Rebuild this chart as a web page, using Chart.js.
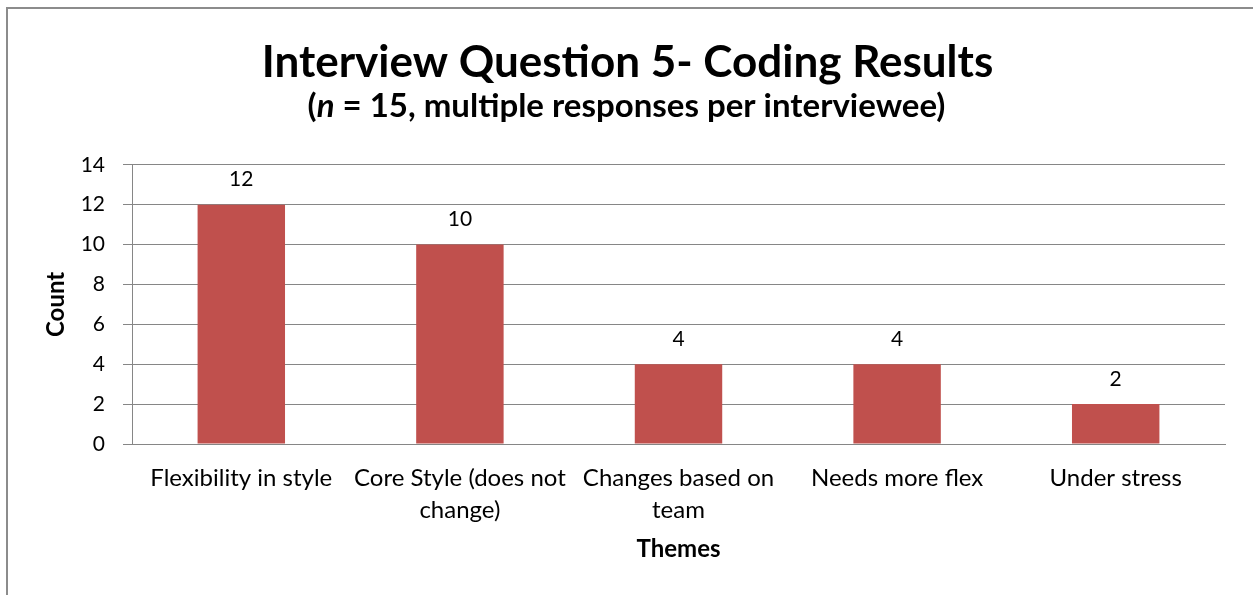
<!DOCTYPE html>
<html>
<head>
<meta charset="utf-8">
<title>Interview Question 5- Coding Results</title>
<script src="https://cdn.jsdelivr.net/npm/chart.js@4/dist/chart.umd.min.js"></script>
<style>
  body { margin: 0; background: #fff; }
  .wrap { position: relative; width: 1253px; height: 595px; overflow: hidden; }
  .frame { position: absolute; left: 6px; top: 7px; width: 1300px; height: 700px;
           border: 2px solid #8c8c8c; box-sizing: border-box; pointer-events: none; }
  canvas { position: absolute; left: 0; top: 0; }
</style>
</head>
<body>
<div class="wrap">
  <canvas id="bar-chart" width="1253" height="595"></canvas>
  <div class="frame"></div>
</div>
<script>
// Chart data
const themes = [
  'Flexibility in style',
  ['Core Style (does not', 'change)'],
  ['Changes based on', 'team'],
  'Needs more flex',
  'Under stress'
];
const counts = [12, 10, 4, 4, 2];
const countTicks = [0, 2, 4, 6, 8, 10, 12, 14];

const FONT = 'Lato';
const GRID = '#868686';

// Subtitle with the italic "n", drawn piece by piece and centred
const subtitlePlugin = {
  id: 'subtitleMixed',
  afterDraw(chart) {
    const ctx = chart.ctx;
    const parts = [
      { t: '(', f: 'bold 33px ' + FONT },
      { t: 'n', f: 'italic bold 33px ' + FONT },
      { t: ' = 15, multiple responses per interviewee)', f: 'bold 33px ' + FONT }
    ];
    ctx.save();
    let total = 0;
    parts.forEach((p) => { ctx.font = p.f; p.w = ctx.measureText(p.t).width; total += p.w; });
    let x = chart.width / 2 - total / 2;
    const y = chart.chartArea.top - 58;
    ctx.fillStyle = '#000';
    ctx.textBaseline = 'middle';
    ctx.textAlign = 'left';
    parts.forEach((p) => { ctx.font = p.f; ctx.fillText(p.t, x, y); x += p.w; });
    ctx.restore();
  }
};

// Value labels above each bar
const barValueLabels = {
  id: 'barValueLabels',
  afterDatasetsDraw(chart) {
    const ctx = chart.ctx;
    const meta = chart.getDatasetMeta(0);
    ctx.save();
    ctx.font = '21px ' + FONT;
    ctx.fillStyle = '#000';
    ctx.textAlign = 'center';
    ctx.textBaseline = 'middle';
    meta.data.forEach((bar, i) => {
      ctx.fillText(String(counts[i]), bar.x, bar.y - 25);
    });
    ctx.restore();
  }
};

function makeChart() {
  new Chart(document.getElementById('bar-chart'), {
    type: 'bar',
    data: {
      labels: themes,
      datasets: [{
        data: counts,
        backgroundColor: '#C0504D',
        borderWidth: 0,
        barPercentage: 0.4,
        categoryPercentage: 1
      }]
    },
    options: {
      responsive: false,
      animation: false,
      layout: { padding: { left: 30, right: 28, top: 0, bottom: 0 } },
      plugins: {
        legend: { display: false },
        tooltip: { enabled: false },
        title: {
          display: true,
          text: 'Interview Question 5- Coding Results',
          color: '#000',
          font: { family: FONT, size: 44, weight: 'bold' },
          padding: { top: 36, bottom: 76 }
        }
      },
      scales: {
        x: {
          afterFit(scale) { scale.height = 151; },
          grid: { display: false },
          border: { display: true, color: GRID, width: 1 },
          ticks: {
            color: '#000',
            font: { family: FONT, size: 24, lineHeight: 1.3 },
            maxRotation: 0,
            autoSkip: false,
            padding: 11
          },
          title: {
            display: true,
            text: 'Themes',
            color: '#000',
            font: { family: FONT, size: 24, weight: 'bold' },
            padding: { top: 10, bottom: 31 }
          }
        },
        y: {
          min: 0,
          max: 14,
          afterBuildTicks(scale) {
            scale.ticks = countTicks.map((v) => ({ value: v }));
          },
          afterFit(scale) { scale.width = 102; },
          grid: { color: GRID, lineWidth: 1, tickLength: 9 },
          border: { display: true, color: GRID, width: 1 },
          ticks: {
            color: '#000',
            font: { family: FONT, size: 21 },
            padding: 18
          },
          title: {
            display: true,
            text: 'Count',
            color: '#000',
            font: { family: FONT, size: 24, weight: 'bold' },
            padding: { top: 12, bottom: 0 }
          }
        }
      }
    },
    plugins: [subtitlePlugin, barValueLabels]
  });
}

if (document.fonts && document.fonts.load) {
  Promise.all([
    document.fonts.load('21px ' + FONT),
    document.fonts.load('bold 33px ' + FONT),
    document.fonts.load('italic bold 33px ' + FONT)
  ]).then(makeChart, makeChart);
} else {
  makeChart();
}
</script>
</body>
</html>
